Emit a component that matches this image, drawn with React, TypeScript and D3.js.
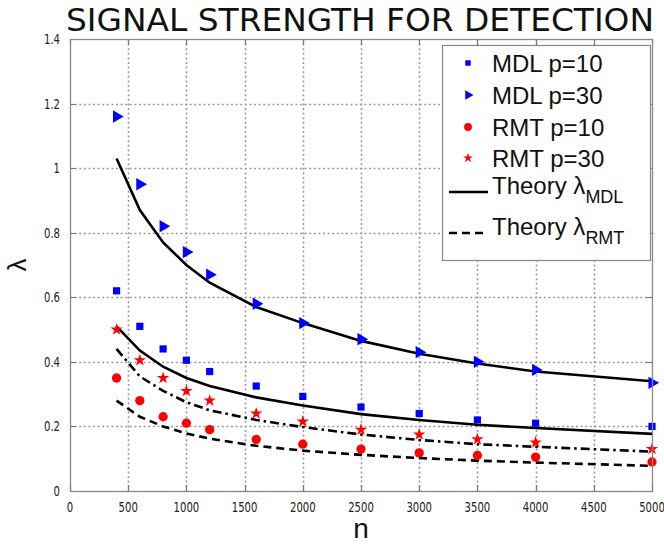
import React from "react";
import * as d3 from "d3";

const nValues = [400, 600, 800, 1000, 1200, 1600, 2000, 2500, 3000, 3500, 4000, 5000];
const mdlP10 = [0.62, 0.51, 0.44, 0.405, 0.37, 0.325, 0.293, 0.26, 0.24, 0.22, 0.21, 0.2];
const mdlP30 = [1.16, 0.95, 0.82, 0.74, 0.67, 0.58, 0.52, 0.47, 0.43, 0.4, 0.375, 0.335];
const rmtP10 = [0.35, 0.28, 0.23, 0.21, 0.19, 0.16, 0.145, 0.13, 0.118, 0.11, 0.105, 0.09];
const rmtP30 = [0.5, 0.405, 0.35, 0.31, 0.28, 0.24, 0.215, 0.19, 0.175, 0.16, 0.15, 0.13];
const theoryMdlP30 = [1.03, 0.87, 0.77, 0.7, 0.645, 0.57, 0.52, 0.465, 0.425, 0.395, 0.37, 0.34];
const theoryMdlP10 = [0.51, 0.435, 0.385, 0.35, 0.325, 0.29, 0.265, 0.238, 0.22, 0.205, 0.195, 0.177];
const theoryRmtP30 = [0.44, 0.355, 0.31, 0.275, 0.25, 0.22, 0.198, 0.175, 0.158, 0.145, 0.137, 0.122];
const theoryRmtP10 = [0.28, 0.23, 0.2, 0.178, 0.162, 0.14, 0.125, 0.112, 0.102, 0.094, 0.088, 0.078];
const xTicks = [0, 500, 1000, 1500, 2000, 2500, 3000, 3500, 4000, 4500, 5000];
const yTicks = [0, 0.2, 0.4, 0.6, 0.8, 1, 1.2, 1.4];

const W = 664;
const H = 544;
const L = 70, R = 652, T = 39, B = 491;
const narrow = "'Liberation Sans Narrow', 'DejaVu Sans Condensed', 'Arial Narrow', 'Liberation Sans', sans-serif";
const sans = "'Liberation Sans', Arial, Helvetica, sans-serif";

export default function App() {
  const x = d3.scaleLinear().domain([0, 5000]).range([L, R]);
  const y = d3.scaleLinear().domain([0, 1.4]).range([B, T]);
  const line = d3
    .line<number>()
    .x((_, i) => x(nValues[i]))
    .y((d) => y(d));

  const sq = d3.symbol().type(d3.symbolSquare).size(52)()!;
  const tri = d3.symbol().type(d3.symbolTriangle).size(66)()!;
  const circ = d3.symbol().type(d3.symbolCircle).size(68)()!;
  const star = d3.symbol().type(d3.symbolStar).size(48)()!;

  const sqL = d3.symbol().type(d3.symbolSquare).size(30)()!;
  const triL = d3.symbol().type(d3.symbolTriangle).size(40)()!;
  const circL = d3.symbol().type(d3.symbolCircle).size(48)()!;
  const starL = d3.symbol().type(d3.symbolStar).size(30)()!;

  const blue = "#0000ff";
  const red = "#ff0000";

  const legendItems = [
    { label: "MDL p=10", y: 63, path: sqL, fill: blue, rot: 0 },
    { label: "MDL p=30", y: 95, path: triL, fill: blue, rot: 90 },
    { label: "RMT p=10", y: 127, path: circL, fill: red, rot: 0 },
    { label: "RMT p=30", y: 158, path: starL, fill: red, rot: 0 },
  ];

  const px = (v: number) => Math.round(v) + 0.5;

  const gridPath =
    xTicks
      .slice(1, -1)
      .map((t) => `M${px(x(t))},${T}V${B}`)
      .join("") +
    yTicks
      .slice(1, -1)
      .map((t) => `M${L},${px(y(t))}H${R}`)
      .join("");

  const tickPath =
    xTicks.map((t) => `M${px(x(t))},${B}v-6M${px(x(t))},${T}v6`).join("") +
    yTicks.map((t) => `M${L},${px(y(t))}h6M${R},${px(y(t))}h-6`).join("");

  return (
    <svg width={W} height={H} style={{ display: "block", position: "absolute", left: 0, top: 0 }}>
      <rect x={0} y={0} width={W} height={H} fill="#fff" />
      <text
        x={360}
        y={31}
        textAnchor="middle"
        fontFamily={narrow}
        fontSize={32}
        textLength={588}
        lengthAdjust="spacingAndGlyphs"
        fill="#111"
      >
        SIGNAL STRENGTH FOR DETECTION
      </text>

      {/* grid */}
      <path d={gridPath} fill="none" stroke="#999" strokeWidth={1.6} strokeDasharray="2,2.6" />

      {/* ticks */}
      <path d={tickPath} fill="none" stroke="#777" strokeWidth={1.2} />

      {/* tick labels */}
      <g fontFamily={narrow} fontSize={14} fill="#222">
        {xTicks.map((t) => (
          <text
            key={"lx" + t}
            transform={`translate(${x(t)},${B + 21}) scale(0.8,1)`}
            textAnchor="middle"
          >
            {String(t)}
          </text>
        ))}
        {yTicks.map((t) => (
          <text
            key={"ly" + t}
            transform={`translate(${L - 10},${y(t) + 5}) scale(0.8,1)`}
            textAnchor="end"
          >
            {String(t)}
          </text>
        ))}
      </g>

      {/* axis labels */}
      <text x={361} y={538} textAnchor="middle" fontFamily={sans} fontSize={28} fill="#111">
        n
      </text>
      <text
        transform={`translate(26,265) rotate(-90)`}
        textAnchor="middle"
        fontFamily={sans}
        fontSize={26}
        fill="#111"
      >
        λ
      </text>

      {/* theory lines */}
      <g fill="none" stroke="#000" strokeWidth={2.6}>
        <path d={line(theoryMdlP30)!} />
        <path d={line(theoryMdlP10)!} />
        <path d={line(theoryRmtP30)!} strokeDasharray="9,4,2.5,4" />
        <path d={line(theoryRmtP10)!} strokeDasharray="8,5" />
      </g>

      {/* markers */}
      <g fill={blue}>
        {mdlP10.map((v, i) => (
          <path key={"s" + i} d={sq} transform={`translate(${x(nValues[i])},${y(v)})`} />
        ))}
        {mdlP30.map((v, i) => (
          <path key={"t" + i} d={tri} transform={`translate(${x(nValues[i])},${y(v)}) rotate(90)`} />
        ))}
      </g>
      <g fill={red}>
        {rmtP10.map((v, i) => (
          <path key={"c" + i} d={circ} transform={`translate(${x(nValues[i])},${y(v)})`} />
        ))}
        {rmtP30.map((v, i) => (
          <path key={"st" + i} d={star} transform={`translate(${x(nValues[i])},${y(v)})`} />
        ))}
      </g>

      {/* frame */}
      <rect x={L + 0.5} y={T + 0.5} width={R - L} height={B - T} fill="none" stroke="#888" strokeWidth={1.3} />

      {/* legend */}
      <rect x={442.5} y={45.5} width={208} height={215} fill="#fff" stroke="#888" strokeWidth={1.2} />
      <g fontFamily={sans} fontSize={24} fill="#111">
        {legendItems.map((it) => (
          <g key={it.label}>
            <path
              d={it.path}
              fill={it.fill}
              transform={`translate(468,${it.y})${it.rot ? ` rotate(${it.rot})` : ""}`}
            />
            <text x={492} y={it.y + 9}>
              {it.label}
            </text>
          </g>
        ))}
        <line x1={449} x2={488} y1={192} y2={192} stroke="#000" strokeWidth={2.6} />
        <text x={492} y={194}>
          Theory λ<tspan fontSize={18} dy={9}>MDL</tspan>
        </text>
        <line x1={449} x2={488} y1={233} y2={233} stroke="#000" strokeWidth={2.6} strokeDasharray="8,5" />
        <text x={492} y={235}>
          Theory λ<tspan fontSize={18} dy={9}>RMT</tspan>
        </text>
      </g>
    </svg>
  );
}
